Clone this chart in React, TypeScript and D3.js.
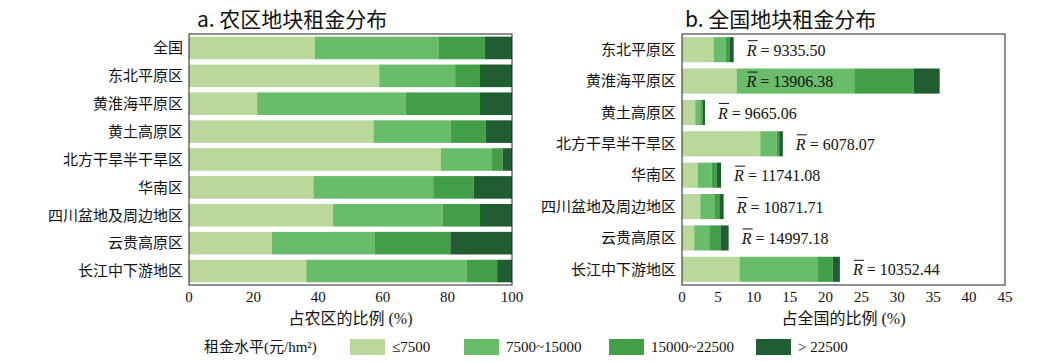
import React from "react"
import * as d3 from "d3"

// 左图：各区占农区比例 (%)
const regionsA = ["全国", "东北平原区", "黄淮海平原区", "黄土高原区", "北方干旱半干旱区", "华南区", "四川盆地及周边地区", "云贵高原区", "长江中下游地区"]
const lowA = [39.0, 58.9, 21.1, 57.1, 78.0, 38.5, 44.6, 25.7, 36.3]
const midA = [38.2, 23.5, 46.0, 24.0, 15.8, 37.1, 33.9, 31.7, 49.6]
const highA = [14.4, 7.5, 23.0, 10.8, 3.3, 12.6, 11.6, 23.5, 9.5]
const topA = [8.4, 10.1, 9.9, 8.1, 2.9, 11.8, 9.9, 19.1, 4.6]

// 右图：占全国的比例 (%)
const regionsB = ["东北平原区", "黄淮海平原区", "黄土高原区", "北方干旱半干旱区", "华南区", "四川盆地及周边地区", "云贵高原区", "长江中下游地区"]
const lowB = [4.4, 7.6, 1.85, 10.9, 2.2, 2.55, 1.7, 8.0]
const midB = [1.65, 16.4, 0.7, 2.3, 1.95, 1.95, 2.1, 10.85]
const highB = [0.55, 8.3, 0.35, 0.35, 0.7, 0.7, 1.55, 2.15]
const topB = [0.6, 3.6, 0.3, 0.5, 0.6, 0.6, 1.15, 1.0]
const meanRent = ["9335.50", "13906.38", "9665.06", "6078.07", "11741.08", "10871.71", "14997.18", "10352.44"]

const ticksA = [0, 20, 40, 60, 80, 100]
const ticksB = [0, 5, 10, 15, 20, 25, 30, 35, 40, 45]

const keys = ["low", "mid", "high", "top"]
const legendLabels = ["≤7500", "7500~15000", "15000~22500", "> 22500"]
const colors = ["#bad89b", "#68bc6a", "#429f47", "#205e32"]

const serif = "'Liberation Serif', 'Noto Sans CJK SC', serif"

function rows(regions, a, b, c, d) {
  return regions.map((r, i) => ({ region: r, low: a[i], mid: b[i], high: c[i], top: d[i] }))
}

function Panel({ title, regions, data, domain, ticks, left, right, xTitle, padding, labels }) {
  const top = 34
  const bottom = 285
  const x = d3.scaleLinear().domain(domain).range([left, right])
  const y = d3.scaleBand().domain(regions).range([top, bottom]).paddingInner(padding).paddingOuter(padding / 2)
  const series = d3.stack().keys(keys)(data)
  return (
    <g>
      <text x={left + (labels ? 3 : 8)} y={27} fontSize={21} fontFamily="'Noto Sans CJK SC', sans-serif" fill="#111">{title}</text>
      {series.map((s, si) => (
        <g key={s.key} fill={colors[si]}>
          {s.map((d, i) => (
            <rect key={i} x={x(d[0])} y={y(d.data.region)} width={Math.max(0, x(d[1]) - x(d[0]))} height={y.bandwidth()} />
          ))}
        </g>
      ))}
      <rect x={left} y={top} width={right - left} height={bottom - top} fill="none" stroke="#222" strokeWidth={1} />
      {regions.map(r => (
        <text key={r} x={left - 6} y={y(r) + y.bandwidth() / 2} dy="0.35em" textAnchor="end" fontSize={15} fontFamily={serif} fill="#111">{r}</text>
      ))}
      {ticks.map(t => (
        <text key={t} x={x(t)} y={302} textAnchor="middle" fontSize={15} fontFamily={serif} fill="#111">{t}</text>
      ))}
      <text x={(left + right) / 2} y={324} textAnchor="middle" fontSize={16} fontFamily={serif} fill="#111">{xTitle}</text>
      {labels && data.map((d, i) => {
        const total = d.low + d.mid + d.high + d.top
        const lx = total > 30 ? x(d.low) + 10 : x(total) + 13
        const cy = y(d.region) + y.bandwidth() / 2
        return (
          <g key={i}>
            <line x1={lx + 1} x2={lx + 11} y1={cy - 9} y2={cy - 9} stroke="#111" strokeWidth={1} />
            <text x={lx} y={cy} dy="0.38em" fontSize={16} fontFamily={serif} fill="#111">
              <tspan fontStyle="italic">R</tspan>
              <tspan> = {labels[i]}</tspan>
            </text>
          </g>
        )
      })}
    </g>
  )
}

export default function App() {
  const dataA = rows(regionsA, lowA, midA, highA, topA)
  const dataB = rows(regionsB, lowB, midB, highB, topB)
  const legendX = [350, 464, 609, 756]
  return (
    <svg width={1058} height={362} style={{ position: "absolute", left: 0, top: 0, background: "#fff" }}>
      <Panel title="a. 农区地块租金分布" regions={regionsA} data={dataA} domain={[0, 100]} ticks={ticksA}
        left={189} right={512} xTitle="占农区的比例 (%)" padding={0.19} labels={null} />
      <Panel title="b. 全国地块租金分布" regions={regionsB} data={dataB} domain={[0, 45]} ticks={ticksB}
        left={682} right={1005} xTitle="占全国的比例 (%)" padding={0.2} labels={meanRent} />
      <text x={204} y={347} dy="0.35em" fontSize={15} fontFamily={serif} fill="#111">租金水平(元/hm²)</text>
      {legendLabels.map((l, i) => (
        <g key={l}>
          <rect x={legendX[i]} y={339} width={35} height={16} fill={colors[i]} />
          <text x={legendX[i] + 42} y={347} dy="0.35em" fontSize={15} fontFamily={serif} fill="#111">{l}</text>
        </g>
      ))}
    </svg>
  )
}
